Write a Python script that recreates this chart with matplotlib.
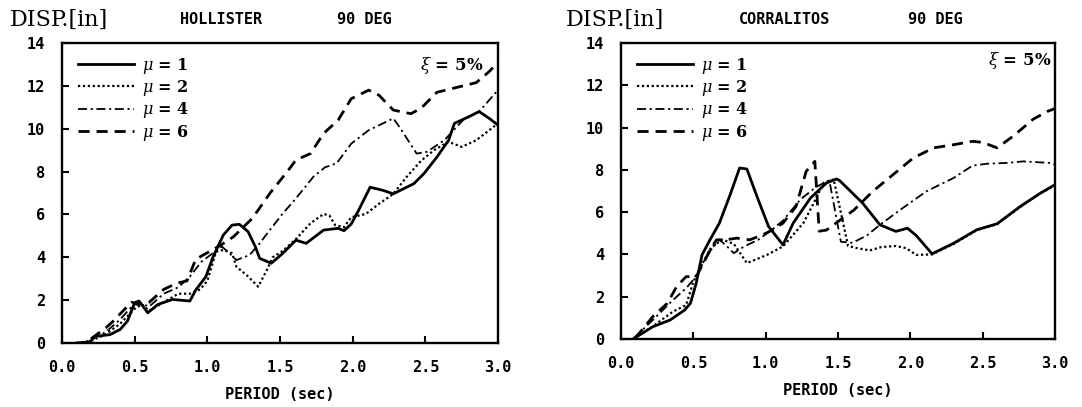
import matplotlib.pyplot as plt

plt.rcParams['mathtext.fontset'] = 'dejavuserif'

# ductility levels and their line styles
MU = [1, 2, 4, 6]
STYLES = ['-', (0, (1, 1.2)), (0, (5, 2, 1.2, 2)), (0, (4, 2.5))]
WIDTHS = [2.0, 1.6, 1.3, 2.0]

# HOLLISTER 90 DEG, displacement [in] vs period [sec]
hol_t1 = [0.10, 0.19, 0.23, 0.33, 0.40, 0.45, 0.50, 0.53, 0.59, 0.66, 0.76, 0.88, 0.92, 0.99,
          1.04, 1.11, 1.17, 1.22, 1.28, 1.33, 1.36, 1.44, 1.52, 1.61, 1.68, 1.80, 1.90, 1.94,
          1.99, 2.04, 2.12, 2.21, 2.28, 2.35, 2.42, 2.49, 2.58, 2.66, 2.70, 2.80, 2.87, 2.94, 3.00]
hol_d1 = [0.00, 0.05, 0.31, 0.39, 0.63, 1.02, 1.88, 1.96, 1.41, 1.80, 2.03, 1.96, 2.47, 3.10,
          4.03, 5.04, 5.50, 5.54, 5.20, 4.50, 3.95, 3.72, 4.19, 4.80, 4.65, 5.27, 5.35, 5.24,
          5.55, 6.18, 7.27, 7.12, 6.96, 7.20, 7.43, 7.90, 8.68, 9.46, 10.25, 10.56, 10.80, 10.48, 10.17]
hol_t2 = [0.10, 0.20, 0.30, 0.40, 0.50, 0.55, 0.60, 0.70, 0.80, 0.88, 0.95, 1.00, 1.06, 1.11,
          1.17, 1.20, 1.27, 1.35, 1.41, 1.45, 1.52, 1.61, 1.71, 1.80, 1.84, 1.88, 1.94, 1.99,
          2.09, 2.18, 2.28, 2.37, 2.47, 2.56, 2.66, 2.75, 2.85, 2.94, 3.00]
hol_d2 = [0.00, 0.10, 0.40, 0.90, 1.60, 1.80, 1.50, 1.90, 2.30, 2.30, 2.50, 2.90, 4.26, 4.34,
          4.19, 3.56, 3.17, 2.63, 3.41, 4.00, 4.30, 4.85, 5.59, 6.02, 5.95, 5.50, 5.40, 5.87,
          6.02, 6.49, 6.96, 7.74, 8.50, 9.00, 9.39, 9.15, 9.46, 9.93, 10.25]
hol_t4 = [0.20, 0.30, 0.40, 0.48, 0.52, 0.60, 0.70, 0.80, 0.88, 0.96, 1.04, 1.10, 1.15, 1.20,
          1.29, 1.36, 1.43, 1.52, 1.61, 1.73, 1.81, 1.89, 1.99, 2.11, 2.28, 2.32, 2.44, 2.51,
          2.63, 2.77, 2.87, 2.94, 3.00]
hol_d4 = [0.20, 0.50, 1.10, 1.70, 1.90, 1.70, 2.30, 2.60, 3.10, 3.80, 4.20, 4.50, 4.20, 3.87,
          4.10, 4.65, 5.27, 6.05, 6.75, 7.76, 8.20, 8.39, 9.30, 9.93, 10.48, 10.10, 8.84, 8.92,
          9.46, 10.48, 10.80, 11.34, 11.80]
hol_t6 = [0.20, 0.30, 0.35, 0.42, 0.48, 0.52, 0.60, 0.70, 0.79, 0.86, 0.92, 0.97, 1.05, 1.10,
          1.18, 1.31, 1.43, 1.55, 1.61, 1.71, 1.80, 1.90, 1.99, 2.11, 2.18, 2.28, 2.40, 2.47,
          2.58, 2.70, 2.85, 2.94, 3.00]
hol_d6 = [0.20, 0.70, 1.00, 1.50, 1.90, 1.80, 1.90, 2.50, 2.79, 2.90, 3.90, 4.10, 4.40, 4.60,
          4.96, 5.82, 6.98, 8.00, 8.54, 8.84, 9.78, 10.40, 11.40, 11.80, 11.57, 10.87, 10.70, 10.95,
          11.70, 11.90, 12.15, 12.67, 13.10]

# CORRALITOS 90 DEG
cor_t1 = [0.09, 0.22, 0.34, 0.44, 0.48, 0.52, 0.56, 0.615, 0.68, 0.75, 0.82, 0.87, 0.94, 1.02,
          1.12, 1.19, 1.31, 1.42, 1.49, 1.51, 1.67, 1.79, 1.90, 1.98, 2.04, 2.15, 2.30, 2.46,
          2.60, 2.76, 2.90, 3.00]
cor_d1 = [0.03, 0.58, 0.90, 1.37, 1.69, 2.64, 3.98, 4.69, 5.48, 6.74, 8.09, 8.04, 6.74, 5.32,
          4.45, 5.48, 6.67, 7.38, 7.57, 7.50, 6.43, 5.40, 5.09, 5.24, 4.90, 4.03, 4.53, 5.17,
          5.45, 6.27, 6.90, 7.30]
cor_t2 = [0.09, 0.22, 0.36, 0.45, 0.50, 0.55, 0.62, 0.70, 0.78, 0.87, 1.01, 1.12, 1.26, 1.33,
          1.40, 1.47, 1.57, 1.63, 1.72, 1.80, 1.90, 1.97, 2.04, 2.15, 2.30, 2.46, 2.60, 2.76,
          2.90, 3.00]
cor_d2 = [0.03, 0.60, 1.30, 1.60, 2.70, 3.40, 4.30, 4.70, 4.50, 3.59, 3.98, 4.38, 5.48, 6.40,
          7.38, 7.55, 4.40, 4.30, 4.19, 4.35, 4.40, 4.30, 3.98, 4.00, 4.50, 5.15, 5.43, 6.25,
          6.90, 7.25]
cor_t4 = [0.09, 0.22, 0.36, 0.45, 0.50, 0.56, 0.62, 0.68, 0.73, 0.78, 0.85, 0.95, 1.05, 1.12,
          1.24, 1.35, 1.44, 1.52, 1.60, 1.70, 1.79, 1.93, 2.11, 2.30, 2.43, 2.53, 2.67, 2.78,
          2.96, 3.00]
cor_d4 = [0.05, 0.90, 1.85, 2.40, 2.80, 3.50, 4.20, 4.70, 4.40, 4.06, 4.37, 4.70, 5.20, 5.60,
          6.60, 7.20, 7.50, 4.60, 4.55, 4.90, 5.40, 6.11, 6.98, 7.62, 8.20, 8.29, 8.33, 8.40,
          8.33, 8.25]
cor_t6 = [0.10, 0.22, 0.32, 0.385, 0.45, 0.52, 0.57, 0.615, 0.66, 0.72, 0.80, 0.89, 0.98, 1.05,
          1.12, 1.21, 1.28, 1.34, 1.37, 1.42, 1.49, 1.61, 1.74, 1.88, 2.02, 2.16, 2.30, 2.43,
          2.50, 2.60, 2.71, 2.85, 2.95, 3.00]
cor_d6 = [0.05, 1.06, 1.69, 2.48, 2.95, 2.95, 3.59, 4.20, 4.69, 4.69, 4.77, 4.69, 4.93, 5.17,
          5.48, 6.27, 7.93, 8.40, 5.10, 5.15, 5.50, 6.10, 6.98, 7.77, 8.56, 9.04, 9.19, 9.35,
          9.30, 9.04, 9.59, 10.40, 10.77, 10.90]

X_TICKS = [0.0, 0.5, 1.0, 1.5, 2.0, 2.5, 3.0]
X_LABELS = ['0.0', '0.5', '1.0', '1.5', '2.0', '2.5', '3.0']
Y_TICKS = [0, 2, 4, 6, 8, 10, 12, 14]

MONO = 'DejaVu Sans Mono'


def draw_panel(ax, curves):
    for (t, d), mu, ls, lw in zip(curves, MU, STYLES, WIDTHS):
        ax.plot(t, d, color='black', linestyle=ls, linewidth=lw, label=rf'$\mu$ = {mu}')

    ax.set_xlim(0, 3)
    ax.set_ylim(0, 14)
    ax.set_xticks(X_TICKS)
    ax.set_xticklabels(X_LABELS)
    ax.set_yticks(Y_TICKS)
    ax.tick_params(direction='in', length=5, width=1.5, pad=12,
                   labelsize=11)
    for lab in ax.get_xticklabels() + ax.get_yticklabels():
        lab.set_family(MONO)
        lab.set_weight('bold')
    for sp in ax.spines.values():
        sp.set_linewidth(1.7)

    ax.set_xlabel('PERIOD (sec)', family=MONO, weight='bold', fontsize=11, labelpad=9)

    leg = ax.legend(loc='upper left', bbox_to_anchor=(0.015, 0.99), frameon=False,
                    handlelength=3.5, handletextpad=0.5, labelspacing=0.15,
                    borderaxespad=0.2, prop={'family': 'DejaVu Serif', 'weight': 'bold', 'size': 11.5})
    return leg


fig = plt.figure(figsize=(10.82, 4.07), dpi=100)
ax1 = fig.add_axes([62 / 1082, 64 / 407, 436 / 1082, 300 / 407])
ax2 = fig.add_axes([621 / 1082, 68 / 407, 434 / 1082, 296 / 407])

draw_panel(ax1, [(hol_t1, hol_d1), (hol_t2, hol_d2), (hol_t4, hol_d4), (hol_t6, hol_d6)])
draw_panel(ax2, [(cor_t1, cor_d1), (cor_t2, cor_d2), (cor_t4, cor_d4), (cor_t6, cor_d6)])

ax1.text(0.966, 0.925, r'$\xi$ = 5%', transform=ax1.transAxes, ha='right', va='center',
         family='DejaVu Serif', weight='bold', fontsize=12)
ax2.text(0.993, 0.94, r'$\xi$ = 5%', transform=ax2.transAxes, ha='right', va='center',
         family='DejaVu Serif', weight='bold', fontsize=12)

# headers above each panel
fig.text(10 / 1082, 1 - 20 / 407, 'DISP.[in]', family='DejaVu Serif', fontsize=16, va='center')
fig.text(221 / 1082, 1 - 19 / 407, 'HOLLISTER', family=MONO, weight='bold', fontsize=11,
         ha='center', va='center')
fig.text(364 / 1082, 1 - 19 / 407, '90 DEG', family=MONO, weight='bold', fontsize=11,
         ha='center', va='center')
fig.text(566 / 1082, 1 - 20 / 407, 'DISP.[in]', family='DejaVu Serif', fontsize=16, va='center')
fig.text(784 / 1082, 1 - 19 / 407, 'CORRALITOS', family=MONO, weight='bold', fontsize=11,
         ha='center', va='center')
fig.text(935 / 1082, 1 - 19 / 407, '90 DEG', family=MONO, weight='bold', fontsize=11,
         ha='center', va='center')

fig.savefig('out.png', dpi=100)
